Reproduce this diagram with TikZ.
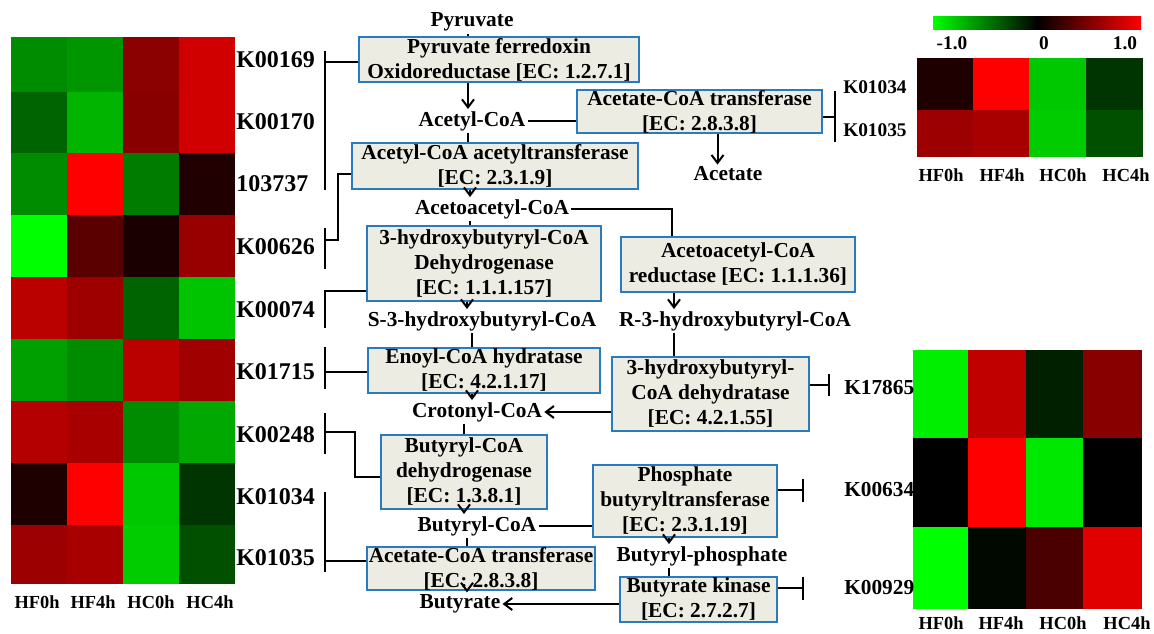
\documentclass[tikz,border=0pt]{standalone}
\usepackage{fontspec}
\setmainfont{Liberation Serif}
\usetikzlibrary{arrows.meta,calc}
\definecolor{boxblue}{HTML}{2A7ABF}
\definecolor{boxfill}{HTML}{EDECE2}
\definecolor{hg}{HTML}{00FF00}
\definecolor{hr}{HTML}{FF0000}
\begin{document}
\begin{tikzpicture}[x=0.75pt,y=-0.75pt,
  bx/.style={draw=boxblue, fill=boxfill, line width=1.5pt, inner sep=0pt, align=center, font=\fontsize{16}{18.75}\selectfont\bfseries},
  sz/.style 2 args={minimum width={#1*0.75pt}, minimum height={#2*0.75pt}},
  met/.style={inner sep=1.5pt, font=\fontsize{16}{19}\selectfont\bfseries},
  kl/.style={anchor=west, inner sep=0pt, font=\fontsize{18}{20}\selectfont\bfseries},
  kr/.style={anchor=west, inner sep=0pt, font=\fontsize{16}{18}\selectfont\bfseries},
  krs/.style={anchor=west, inner sep=0pt, font=\fontsize{14.5}{16}\selectfont\bfseries},
  cl/.style={inner sep=0pt, font=\fontsize{13.8}{16}\selectfont\bfseries},
  ln/.style={line width=1.5pt},
  arr/.style={ln, -{Straight Barb[length=6pt,width=9pt]}},
]
\useasboundingbox (0,0) rectangle (1154,634);
\fill[white] (0,0) rectangle (1154,634);

% ---------- left heatmap ----------
\foreach \ya/\yb/\ca/\cb/\cc/\cd in {
37/92/008C00/009600/8B0000/D00000,
92/153/006400/00B400/880000/D00000,
153/215/008C00/FF0000/007C00/200000,
215/277/00FF00/5A0000/1A0000/980000,
277/339/BB0000/9E0000/006400/00C400,
339/401/00A000/008C00/BB0000/A00000,
401/463/B40000/A80000/008C00/00A800,
463/525/1E0000/FF0000/00C800/003400,
525/584/9C0000/A80000/00CC00/005000}{
  \definecolor{ta}{HTML}{\ca}\definecolor{tb}{HTML}{\cb}
  \definecolor{tc}{HTML}{\cc}\definecolor{td}{HTML}{\cd}
  \fill[ta] (11,\ya) rectangle (67,\yb);
  \fill[tb] (67,\ya) rectangle (123,\yb);
  \fill[tc] (123,\ya) rectangle (179,\yb);
  \fill[td] (179,\ya) rectangle (235,\yb);
}
\node[cl] (lc1) at (37,602) {HF0h};
\node[cl] (lc2) at (93,602) {HF4h};
\node[cl] (lc3) at (151,602) {HC0h};
\node[cl] (lc4) at (210,602) {HC4h};

\node[kl] (k1) at (236,60) {K00169};
\node[kl] (k2) at (236,122) {K00170};
\node[kl] (k3) at (236,184) {103737};
\node[kl] (k4) at (236,247) {K00626};
\node[kl] (k5) at (236,310) {K00074};
\node[kl] (k6) at (236,372) {K01715};
\node[kl] (k7) at (236,435) {K00248};
\node[kl] (k8) at (236,497) {K01034};
\node[kl] (k9) at (236,558) {K01035};

% ---------- top right heatmap ----------
\shade[left color=hg, right color=black] (933,17) rectangle (1037,30);
\shade[left color=black, right color=hr] (1037,17) rectangle (1141,30);
\node[krs, anchor=center] (cb1) at (952,43) {-1.0};
\node[krs, anchor=center] (cb2) at (1044,43) {0};
\node[krs, anchor=center] (cb3) at (1125,43) {1.0};
\foreach \ya/\yb/\ca/\cb/\cc/\cd in {
58/110/1E0000/FF0000/00C800/003400,
110/157/9C0000/A80000/00CC00/005000}{
  \definecolor{ta}{HTML}{\ca}\definecolor{tb}{HTML}{\cb}
  \definecolor{tc}{HTML}{\cc}\definecolor{td}{HTML}{\cd}
  \fill[ta] (917,\ya) rectangle (973,\yb);
  \fill[tb] (973,\ya) rectangle (1029,\yb);
  \fill[tc] (1029,\ya) rectangle (1086,\yb);
  \fill[td] (1086,\ya) rectangle (1143,\yb);
}
\node[cl] (tc1) at (941,175) {HF0h};
\node[cl] (tc2) at (1002,175) {HF4h};
\node[cl] (tc3) at (1063,175) {HC0h};
\node[cl] (tc4) at (1126,175) {HC4h};
\node[krs] (r1) at (843,87) {K01034};
\node[krs] (r2) at (843,130) {K01035};

% ---------- bottom right heatmap ----------
\foreach \ya/\yb/\ca/\cb/\cc/\cd in {
350/438/00EE00/C00000/002000/880000,
438/527/000000/FF0000/00E800/000000,
527/609/00FF00/000800/4A0000/E00000}{
  \definecolor{ta}{HTML}{\ca}\definecolor{tb}{HTML}{\cb}
  \definecolor{tc}{HTML}{\cc}\definecolor{td}{HTML}{\cd}
  \fill[ta] (913,\ya) rectangle (968,\yb);
  \fill[tb] (968,\ya) rectangle (1026,\yb);
  \fill[tc] (1026,\ya) rectangle (1083,\yb);
  \fill[td] (1083,\ya) rectangle (1142,\yb);
}
\node[cl] (bc1) at (941,623) {HF0h};
\node[cl] (bc2) at (1001,623) {HF4h};
\node[cl] (bc3) at (1063,623) {HC0h};
\node[cl] (bc4) at (1127,623) {HC4h};
\node[kr] (r3k) at (844,388) {K17865};
\node[kr] (r4k) at (844,490) {K00634};
\node[kr] (r5k) at (844,588) {K00929};

% ---------- enzyme boxes ----------
\node[bx, sz={280}{45}] (B1) at (499,59.5) {Pyruvate ferredoxin\\Oxidoreductase [EC: 1.2.7.1]};
\node[bx, sz={245}{43}] (B2) at (699.5,111.5) {Acetate-CoA transferase\\{[EC: 2.8.3.8]}};
\node[bx, sz={286}{46}] (B3) at (495,166) {Acetyl-CoA acetyltransferase\\{[EC: 2.3.1.9]}};
\node[bx, sz={234}{75}] (B4) at (484,263.5) {3-hydroxybutyryl-CoA\\Dehydrogenase\\{[EC: 1.1.1.157]}};
\node[bx, sz={234}{55}] (B5) at (738,264.5) {Acetoacetyl-CoA\\reductase [EC: 1.1.1.36]};
\node[bx, sz={232}{45}] (B6) at (484,370.5) {Enoyl-CoA hydratase\\{[EC: 4.2.1.17]}};
\node[bx, sz={197}{74}] (B7) at (710.5,394) {3-hydroxybutyryl-\\CoA dehydratase\\{[EC: 4.2.1.55]}};
\node[bx, sz={166}{74}] (B8) at (464,472) {Butyryl-CoA\\dehydrogenase\\{[EC: 1.3.8.1]}};
\node[bx, sz={184}{72}] (B9) at (685,501) {Phosphate\\butyryltransferase\\{[EC: 2.3.1.19]}};
\node[bx, sz={157}{45}] (B10) at (698.5,599.5) {Butyrate kinase\\{[EC: 2.7.2.7]}};
\node[bx, sz={228}{41}] (B11) at (481,568.5) {Acetate-CoA transferase\\{[EC: 2.8.3.8]}};

% ---------- metabolites ----------
\node[met] (pyr) at (472,22) {Pyruvate};
\node[met] (acoa) at (472,121) {Acetyl-CoA};
\node[met] (acetate) at (728,174) {Acetate};
\node[met] (aacoa) at (492,209) {Acetoacetyl-CoA};
\node[met] (s3) at (482,321) {S-3-hydroxybutyryl-CoA};
\node[met] (r3) at (735,321) {R-3-hydroxybutyryl-CoA};
\node[met] (crot) at (477,412) {Crotonyl-CoA};
\node[met] (bcoa) at (477,526) {Butyryl-CoA};
\node[met] (bp) at (702,556) {Butyryl-phosphate};
\node[met] (but) at (460,604) {Butyrate};

% ---------- pathway connectors ----------
\draw[ln] ($(pyr.south)+(-4,0)$) coordinate (p0) -- (p0 |- B1.north);
\draw[arr] ($(B1.south)+(-31,0)$) coordinate (p1) -- (p1 |- acoa.north);
\draw[ln] (p1 |- acoa.south) -- (p1 |- B3.north);
\draw[ln] (acoa.east) -- (acoa.east -| B2.west);
\draw[arr] ($(B2.south)+(18,0)$) coordinate (p2) -- (p2 |- acetate.north);
\draw[arr] ($(B3.south)+(-25,0)$) coordinate (p3) -- (p3 |- aacoa.north);
\draw[ln] (p3 |- aacoa.south) -- (p3 |- B4.north);
\draw[ln] (aacoa.east) -| ($(B5.north west)+(52,0)$);
\draw[arr] ($(B4.south)+(-17,0)$) coordinate (p4) -- (p4 |- s3.north);
\draw[ln] ($(B6.north)+(-12,0)$) coordinate (p5) -- (p5 |- s3.south);
\draw[arr] ($(B6.south)+(-12,0)$) coordinate (p6) -- (p6 |- crot.north);
\draw[arr] ($(B5.south west)+(54,0)$) coordinate (p7) -- (p7 |- r3.north);
\draw[ln] (p7 |- r3.south) -- (p7 |- B7.north);
\draw[arr] (B7.west |- crot.east) -- (crot.east);
\draw[ln] (B8.north |- crot.south) -- (B8.north);
\draw[arr] (B8.south) -- (B8.south |- bcoa.north);
\draw[ln] (bcoa.east) -- (bcoa.east -| B9.west);
\draw[arr] ($(B9.south)+(-16,0)$) coordinate (p8) -- (p8 |- bp.north);
\draw[ln] (p8 |- bp.south) -- (p8 |- B10.north);
\draw[arr] (B10.west |- but.east) -- (but.east);
\draw[ln] ($(B11.north)+(-14,0)$) coordinate (p9) -- (p9 |- bcoa.south);
\draw[arr] ($(B11.south)+(-14,0)$) coordinate (p10) -- (p10 |- but.north);

% ---------- left brackets ----------
\coordinate (lb) at (325,0);
\coordinate (g1a) at (325,51);   \coordinate (g1b) at (325,190);
\coordinate (g2a) at (325,228);  \coordinate (g2b) at (325,269); \coordinate (g2m) at (325,240);
\coordinate (g3a) at (325,290);  \coordinate (g3b) at (325,328); \coordinate (g3m) at (325,291);
\coordinate (g4a) at (325,347);  \coordinate (g4b) at (325,389);
\coordinate (g5a) at (325,413);  \coordinate (g5b) at (325,454); \coordinate (g5m) at (325,432);
\coordinate (g6a) at (325,492);  \coordinate (g6b) at (325,572); \coordinate (g6m) at (325,561);
\draw[ln] (g1a) -- (g1b);
\draw[ln] ($(B1.west)+(0,3)$) coordinate (q1) -- (q1 -| lb);
\draw[ln] (g2a) -- (g2b);
\draw[ln] (g2m) -- ++(13,0) |- ($(B3.south west)+(0,-16)$);
\draw[ln] (g3a) -- (g3b);
\draw[ln] (g3m) -- (g3m -| B4.west);
\draw[ln] (g4a) -- (g4b);
\draw[ln] ($(B6.west)+(0,2)$) coordinate (q4) -- (q4 -| lb);
\draw[ln] (g5a) -- (g5b);
\draw[ln] (g5m) -- ++(30,0) |- ($(B8.west)+(0,5)$);
\draw[ln] (g6a) -- (g6b);
\draw[ln] (g6m) -- (g6m -| B11.west);

% ---------- right brackets ----------
\draw[ln] ($(B2.east)+(0,5.5)$) -- ++(12,0) coordinate (rb1);
\draw[ln] ($(rb1)+(0,-26)$) -- ($(rb1)+(0,25)$);
\draw[ln] ($(B7.east)+(0,-9)$) -- ++(19,0) coordinate (rb2);
\draw[ln] ($(rb2)+(0,-11)$) -- ($(rb2)+(0,11)$);
\draw[ln] ($(B9.east)+(0,-11)$) -- ++(25,0) coordinate (rb3);
\draw[ln] ($(rb3)+(0,-11)$) -- ($(rb3)+(0,12)$);
\draw[ln] ($(B10.east)+(0,-11.5)$) -- ++(25,0) coordinate (rb4);
\draw[ln] ($(rb4)+(0,-11)$) -- ($(rb4)+(0,12)$);
\end{tikzpicture}
\end{document}
